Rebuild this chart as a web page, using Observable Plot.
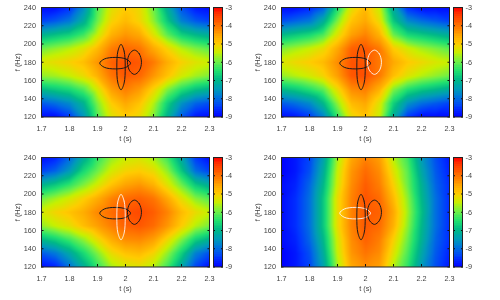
<!DOCTYPE html>
<html><head><meta charset="utf-8">
<script src="https://cdn.jsdelivr.net/npm/d3@7"></script>
<script src="https://cdn.jsdelivr.net/npm/@observablehq/plot@0.6"></script>
<style>
html,body{margin:0;padding:0;background:#fff}
#root{position:relative;width:500px;height:300px;overflow:hidden}
#root>svg{position:absolute;filter:blur(0.35px)}
</style></head><body><div id="root"></div>
<script>
const tGrid=[1.7,1.75,1.8,1.85,1.9,1.95,2,2.05,2.1,2.15,2.2,2.25,2.3];
const fGrid=[240,225,210,195,180,165,150,135,120];
const panelA=[
[-8.9,-8.9,-8.6,-7.7,-6.2,-5.3,-5.0,-5.2,-6.0,-7.2,-8.3,-8.8,-8.9],
[-8.4,-8.2,-7.9,-7.2,-6.0,-5.1,-4.8,-5.1,-5.8,-6.8,-7.8,-8.2,-8.4],
[-7.1,-6.9,-6.7,-6.3,-5.5,-4.7,-4.4,-4.6,-5.3,-6.1,-6.7,-7.0,-7.2],
[-6.0,-5.8,-5.6,-5.3,-4.8,-4.15,-3.9,-4.05,-4.6,-5.1,-5.6,-5.9,-6.1],
[-5.35,-5.2,-5.05,-4.85,-4.4,-3.85,-3.65,-3.75,-4.1,-4.65,-5.05,-5.3,-5.45],
[-5.8,-5.7,-5.5,-5.2,-4.7,-4.05,-3.75,-3.9,-4.4,-4.9,-5.4,-5.7,-5.9],
[-7.0,-6.8,-6.6,-6.2,-5.4,-4.5,-4.15,-4.45,-5.1,-5.9,-6.5,-6.9,-7.1],
[-8.2,-8.0,-7.7,-7.1,-5.9,-5.0,-4.6,-4.9,-5.6,-6.7,-7.6,-8.1,-8.3],
[-8.9,-8.9,-8.5,-7.6,-6.2,-5.3,-5.0,-5.2,-5.9,-7.1,-8.2,-8.8,-8.9]];
const panelB=[
[-8.9,-8.9,-8.7,-8.2,-6.6,-5.3,-4.8,-5.5,-7.3,-8.6,-8.9,-8.9,-8.9],
[-8.3,-8.1,-7.9,-7.2,-5.9,-4.9,-4.6,-5.2,-6.8,-7.7,-8.0,-8.2,-8.4],
[-7.0,-6.8,-6.6,-6.2,-5.3,-4.5,-4.2,-4.7,-6.0,-6.6,-6.8,-7.0,-7.2],
[-5.9,-5.7,-5.5,-5.2,-4.6,-3.85,-3.75,-4.1,-5.0,-5.4,-5.7,-5.9,-6.1],
[-5.35,-5.15,-5.0,-4.8,-4.3,-3.7,-3.75,-4.1,-4.6,-4.95,-5.15,-5.35,-5.5],
[-5.8,-5.6,-5.4,-5.1,-4.5,-3.75,-3.65,-4.1,-4.85,-5.3,-5.6,-5.8,-6.0],
[-7.0,-6.8,-6.5,-6.1,-5.2,-4.3,-4.15,-4.7,-5.9,-6.5,-6.8,-7.0,-7.2],
[-8.2,-8.0,-7.7,-7.0,-5.8,-4.8,-4.6,-5.3,-6.7,-7.6,-8.0,-8.2,-8.4],
[-8.9,-8.8,-8.5,-7.8,-6.4,-5.2,-4.9,-5.5,-7.2,-8.5,-8.9,-8.9,-8.9]];
const panelC=[
[-8.9,-8.7,-8.1,-7.2,-6.4,-5.8,-5.5,-5.4,-5.7,-6.3,-7.3,-8.5,-8.9],
[-8.4,-8.1,-7.5,-6.6,-6.0,-5.4,-5.1,-5.0,-5.2,-5.8,-6.8,-8.0,-8.4],
[-7.1,-6.8,-6.4,-5.9,-5.4,-4.9,-4.55,-4.4,-4.7,-5.3,-6.0,-6.8,-7.2],
[-6.0,-5.7,-5.4,-5.05,-4.65,-4.2,-3.95,-3.85,-4.05,-4.6,-5.25,-5.85,-6.15],
[-5.4,-5.1,-4.9,-4.65,-4.25,-3.95,-3.7,-3.6,-3.8,-4.2,-4.8,-5.2,-5.5],
[-5.8,-5.5,-5.25,-4.85,-4.5,-4.15,-3.85,-3.75,-3.95,-4.4,-5.0,-5.6,-5.95],
[-7.0,-6.7,-6.3,-5.8,-5.2,-4.65,-4.3,-4.25,-4.5,-5.15,-5.9,-6.7,-7.1],
[-8.2,-7.9,-7.3,-6.6,-5.9,-5.2,-4.9,-4.8,-5.1,-5.8,-6.7,-7.8,-8.3],
[-8.9,-8.7,-8.0,-7.2,-6.4,-5.7,-5.4,-5.3,-5.6,-6.3,-7.3,-8.4,-8.9]];
const panelD=[
[-9.0,-8.8,-8.4,-7.4,-5.7,-4.6,-4.2,-4.5,-5.6,-6.3,-7.5,-8.3,-8.8],
[-9.0,-8.8,-8.3,-7.2,-5.5,-4.4,-3.95,-4.3,-5.3,-6.1,-7.3,-8.2,-8.7],
[-8.9,-8.7,-8.1,-7.0,-5.4,-4.3,-3.8,-4.15,-5.05,-6.0,-7.1,-8.1,-8.6],
[-8.9,-8.6,-8.0,-6.8,-5.2,-4.2,-3.7,-3.95,-4.8,-5.8,-7.0,-8.0,-8.6],
[-8.9,-8.6,-8.0,-6.8,-5.2,-4.2,-3.75,-3.85,-4.6,-5.7,-6.9,-8.0,-8.6],
[-8.9,-8.6,-8.0,-6.8,-5.2,-4.2,-3.75,-3.95,-4.7,-5.8,-7.0,-8.0,-8.6],
[-8.9,-8.7,-8.1,-7.0,-5.4,-4.3,-3.85,-4.15,-5.05,-6.0,-7.1,-8.1,-8.6],
[-9.0,-8.8,-8.3,-7.2,-5.5,-4.4,-4.05,-4.3,-5.3,-6.2,-7.3,-8.2,-8.7],
[-9.0,-8.8,-8.4,-7.4,-5.7,-4.6,-4.3,-4.5,-5.6,-6.4,-7.5,-8.3,-8.8]];
const ellipseH={t:[2.018,2.002,1.963,1.924,1.908,1.924,1.963,2.002],f:[179,183.5,185.3,183.5,179,174.5,172.7,174.5]};
const ellipseV={t:[1.999,1.995,1.984,1.973,1.969,1.973,1.984,1.995],f:[174.7,192.3,199.6,192.3,174.7,157.1,149.8,157.1]};
const ellipseR={t:[2.057,2.049,2.032,2.015,2.007,2.015,2.032,2.049],f:[180,189.4,193.3,189.4,180,170.6,166.7,170.6]};
const tTicks=[1.7,1.8,1.9,2,2.1,2.2,2.3];
const fTicks=[120,140,160,180,200,220,240];
const cTicks=[-9,-8,-7,-6,-5,-4,-3];
const cStops=[-9,-8.5,-8,-7.5,-7,-6.5,-6,-5.5,-5,-4.5,-4,-3.5,-3];
const cColors=["#0000ff","#0038ff","#0070e0","#009cb8","#00b888","#20e070","#6cf048","#c8f000","#ffcc00","#ffa000","#ff7000","#ff4000","#ff0000"];
const barLevels=d3.range(-9,-3,0.1);
const panels=[
 {grid:panelA,white:null,left:0,top:0,mL:41},
 {grid:panelB,white:"R",left:250,top:0,mL:31},
 {grid:panelC,white:"V",left:0,top:150,mL:41},
 {grid:panelD,white:"H",left:250,top:150,mL:31}];
const ink="#444";
const colorScale={type:"linear",domain:cStops,range:cColors,clamp:true};
const root=document.getElementById("root");
function place(svg,l,t){svg.style.left=l+"px";svg.style.top=t+"px";root.appendChild(svg);}
function ell(e,key,white){
  const pts=e.t.map((t,i)=>({t,f:e.f[i]}));
  const on=white===key;
  return Plot.line(pts,{x:"t",y:"f",curve:"catmull-rom-closed",stroke:on?"#fff":"#1a1a1a",strokeWidth:1,strokeOpacity:on?0.85:1});
}
for(const p of panels){
  const cells=[];
  p.grid.forEach((row,j)=>row.forEach((v,i)=>cells.push({t:tGrid[i],f:fGrid[j],v})));
  const w=p.mL+168+41;
  const svg=Plot.plot({
    width:w,height:150,
    marginLeft:p.mL,marginRight:41,marginTop:7,marginBottom:33.5,
    style:{fontFamily:"Liberation Sans",fontSize:"7.3px",color:ink,background:"transparent"},
    x:{domain:[1.7,2.3]},y:{domain:[120,240]},
    color:colorScale,
    marks:[
      Plot.raster(cells,{x:"t",y:"f",fill:"v",x1:1.7,x2:2.3,y1:120,y2:240,interpolate:"barycentric",pixelSize:1}),
      ell(ellipseH,"H",p.white),ell(ellipseV,"V",p.white),ell(ellipseR,"R",p.white),
      Plot.axisX({ticks:tTicks,anchor:"bottom",tickSize:-2.5,tickPadding:11,stroke:"#111",tickFormat:d=>String(d),label:"t (s)",labelAnchor:"center",labelArrow:"none",labelOffset:24}),
      Plot.axisX({ticks:tTicks,anchor:"top",tickSize:-2.5,stroke:"#111",tickFormat:()=>"",label:null}),
      Plot.axisY({ticks:fTicks,anchor:"left",tickSize:-2.5,tickPadding:8,stroke:"#111",label:"f (Hz)",labelAnchor:"center",labelArrow:"none",labelOffset:27}),
      Plot.axisY({ticks:fTicks,anchor:"right",tickSize:-2.5,stroke:"#111",tickFormat:()=>"",label:null}),
      Plot.frame({stroke:"#222",strokeWidth:1})
    ]});
  place(svg,p.left,p.top);
  const bar=Plot.plot({
    width:32,height:150,
    marginLeft:0,marginRight:23,marginTop:7,marginBottom:33.5,
    style:{fontFamily:"Liberation Sans",fontSize:"7.3px",color:ink,background:"transparent"},
    x:{axis:null},y:{domain:[-9,-3]},
    color:colorScale,
    marks:[
      Plot.rect(barLevels,{y1:d=>d,y2:d=>d+0.1,fill:d=>d+0.05,shapeRendering:"crispEdges"}),
      Plot.axisY({ticks:cTicks,anchor:"right",tickSize:-2,tickPadding:5,stroke:"#111",tickFormat:d=>String(d),label:null}),
      Plot.axisY({ticks:cTicks,anchor:"left",tickSize:-2,stroke:"#111",tickFormat:()=>"",label:null}),
      Plot.frame({stroke:"#222",strokeWidth:1})
    ]});
  place(bar,p.left+p.mL+172,p.top);
}
</script></body></html>
